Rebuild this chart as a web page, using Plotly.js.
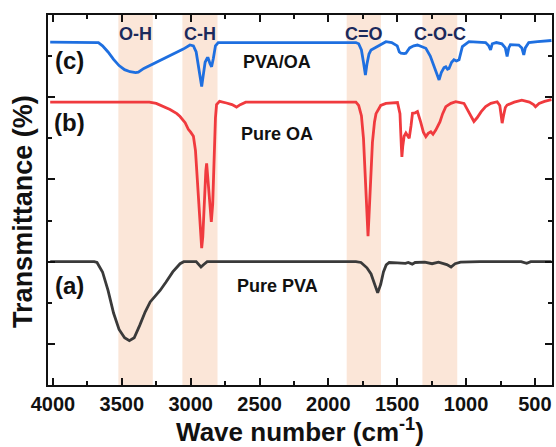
<!DOCTYPE html>
<html>
<head>
<meta charset="utf-8">
<script src="https://cdn.plot.ly/plotly-3.0.1.min.js"></script>
<style>html,body{margin:0;padding:0;background:#fff}#chart{width:556px;height:447px}</style>
</head>
<body>
<div id="chart"></div>
<script>
// Pure PVA (a)
const pvaWn = [4020,3700,3680,3640,3600,3560,3520,3480,3445,3410,3370,3330,3294,3250,3222,3180,3130,3077,3050,2960,2940,2925,2905,2880,2000,1800,1763,1720,1690,1665,1642,1620,1600,1580,1558,1500,1440,1420,1391,1370,1300,1247,1200,1140,1109,1080,1040,900,600,560,530,380];
const pvaT  = [3.0,3.0,2.98,2.75,2.3,1.75,1.35,1.15,1.08,1.15,1.45,1.78,2.02,2.18,2.3,2.5,2.75,2.95,3.0,3.0,2.92,2.87,2.93,3.0,3.0,3.0,2.98,2.85,2.7,2.45,2.24,2.45,2.75,2.92,2.98,2.97,2.96,2.98,2.94,2.98,2.99,2.95,2.99,2.93,2.87,2.95,2.99,3.0,3.0,2.96,3.0,3.0];
// Pure OA (b)
const oaWn = [4020,3300,3250,3200,3150,3100,3077,3040,3017,3000,2993,2980,2965,2950,2935,2925,2920,2912,2900,2890,2884,2875,2862,2850,2840,2830,2820,2812,2790,2740,2700,2667,2640,2600,1800,1780,1760,1745,1730,1720,1712,1705,1695,1680,1665,1654,1620,1582,1498,1480,1470,1466,1460,1450,1437,1425,1413,1400,1389,1370,1353,1330,1310,1292,1275,1256,1240,1220,1190,1170,1147,1110,1075,1015,990,960,943,920,890,858,820,774,755,745,738,728,715,702,650,595,540,510,496,470,430,380];
const oaT  = [6.88,6.88,6.85,6.78,6.7,6.6,6.53,6.38,6.22,6.15,6.1,6.05,5.7,4.9,4.0,3.45,3.33,3.6,4.6,5.2,5.39,5.0,4.4,3.97,4.4,5.6,6.5,6.82,6.9,6.86,6.82,6.76,6.82,6.88,6.88,6.8,6.55,6.0,5.0,4.1,3.62,4.1,5.0,5.9,6.4,6.6,6.8,6.85,6.87,6.6,5.8,5.55,5.8,6.05,6.13,6.05,6.0,6.3,6.61,6.62,6.65,6.4,6.15,6.04,6.12,6.16,6.1,6.2,6.4,6.6,6.77,6.85,6.89,6.85,6.7,6.5,6.41,6.5,6.65,6.77,6.85,6.89,6.8,6.55,6.37,6.55,6.75,6.81,6.88,6.93,6.88,6.82,6.77,6.85,6.9,6.94];
// PVA/OA (c)
const mixWn = [4020,3670,3640,3600,3560,3520,3480,3440,3400,3380,3340,3280,3200,3130,3054,3005,2980,2960,2945,2932,2920,2910,2895,2880,2873,2860,2848,2835,2820,2800,1800,1780,1760,1745,1731,1720,1705,1690,1640,1582,1540,1500,1485,1473,1450,1437,1410,1380,1353,1320,1292,1260,1230,1210,1196,1180,1160,1147,1135,1124,1105,1088,1070,1051,1040,1027,979,900,858,835,822,810,780,740,715,702,690,678,617,595,581,570,545,480,430,380];
const mixT  = [8.34,8.33,8.25,8.1,7.92,7.77,7.67,7.62,7.6,7.61,7.7,7.8,7.92,8.03,8.17,8.27,8.25,8.1,7.8,7.45,7.26,7.5,7.85,7.95,7.95,7.82,7.74,7.95,8.25,8.33,8.33,8.3,8.15,7.85,7.54,7.8,8.05,8.15,8.25,8.35,8.33,8.25,8.1,8.07,8.06,8.07,8.2,8.25,8.27,8.22,8.19,8.0,7.75,7.55,7.42,7.6,7.72,7.74,7.68,7.7,7.85,7.91,7.88,7.91,8.1,8.23,8.35,8.33,8.33,8.25,8.15,8.3,8.33,8.3,8.2,7.99,8.2,8.28,8.27,8.2,8.03,8.2,8.33,8.35,8.37,8.38];

// Highlighted bands (wavenumber limits) and their labels
const bandFrom  = [3525, 3060, 1867, 1317];
const bandTo    = [3275, 2805, 1618, 1064];
const bandNames = ['O-H', 'C-H', 'C=O', 'C-O-C'];

// Curve tags and sample names
const tagText    = ['(c)', '(b)', '(a)'];
const sampleText = ['PVA/OA', 'Pure OA', 'Pure PVA'];

const xTicks = [4000,3500,3000,2500,2000,1500,1000,500];

const FONT = 'Arial, "Liberation Sans", sans-serif';
const navy = '#1b2a5c';

const traces = [
  {x: pvaWn, y: pvaT, mode: 'lines', line: {color: '#3a3a3a', width: 2.8}, name: 'Pure PVA'},
  {x: oaWn, y: oaT, mode: 'lines', line: {color: '#f03a3e', width: 2.8}, name: 'Pure OA'},
  {x: mixWn, y: mixT, mode: 'lines', line: {color: '#1e6fe0', width: 2.8}, name: 'PVA/OA'}
];

const shapes = bandFrom.map((f, i) => ({
  type: 'rect', xref: 'x', yref: 'paper', x0: f, x1: bandTo[i], y0: 0, y1: 1,
  fillcolor: '#fbe6d8', line: {width: 0}, layer: 'below'
}));

const annotations = [];
bandNames.forEach((t, i) => {
  annotations.push({x: (bandFrom[i] + bandTo[i]) / 2, y: 8.53, xref: 'x', yref: 'y', text: t,
    showarrow: false, font: {family: FONT, size: 18, color: navy, weight: 'bold'}});
});
const tagY = [7.9, 6.38, 2.42];
const nameY = [7.85, 6.1, 2.41];
tagText.forEach((t, i) => {
  annotations.push({x: 3883, y: tagY[i], xref: 'x', yref: 'y', text: t, showarrow: false,
    font: {family: FONT, size: 24, color: '#111', weight: 'bold'}});
  annotations.push({x: 2370, y: nameY[i], xref: 'x', yref: 'y', text: sampleText[i], showarrow: false,
    font: {family: FONT, size: 18, color: '#111', weight: 'bold'}});
});
// y-axis title placed as a rotated annotation
annotations.push({x: -0.05, y: 0.47, xref: 'paper', yref: 'paper', text: 'Transmittance (%)',
  textangle: -90, showarrow: false, xanchor: 'center', yanchor: 'middle',
  font: {family: FONT, size: 27, color: '#111', weight: 'bold'}});

const layout = {
  width: 556, height: 447,
  margin: {l: 47.5, r: 3.5, t: 15, b: 62, pad: 0},
  paper_bgcolor: '#fff', plot_bgcolor: '#fff',
  showlegend: false,
  font: {family: FONT, color: '#111'},
  xaxis: {
    range: [4036, 376], tickvals: xTicks, ticktext: xTicks.map(String),
    ticks: 'inside', ticklen: 7, tickwidth: 2, tickcolor: '#111',
    minor: {ticks: 'inside', ticklen: 4, tickwidth: 2, dtick: 250, tick0: 0, tickcolor: '#111'},
    showline: true, linewidth: 2, linecolor: '#111', mirror: 'ticks',
    showgrid: false, zeroline: false,
    tickfont: {family: FONT, size: 20, color: '#111', weight: 'bold'},
    title: {text: 'Wave number (cm<sup>-1</sup>)', font: {family: FONT, size: 26, color: '#111', weight: 'bold'}, standoff: 1}
  },
  yaxis: {
    range: [0, 9], tick0: 1, dtick: 2, showticklabels: false,
    ticks: 'inside', ticklen: 7, tickwidth: 2, tickcolor: '#111',
    minor: {ticks: 'inside', ticklen: 4, tickwidth: 2, dtick: 1, tick0: 0, tickcolor: '#111'},
    showline: true, linewidth: 2, linecolor: '#111', mirror: 'ticks',
    showgrid: false, zeroline: false
  },
  shapes: shapes,
  annotations: annotations
};

Plotly.newPlot('chart', traces, layout, {displayModeBar: false, staticPlot: true});
</script>
</body>
</html>
